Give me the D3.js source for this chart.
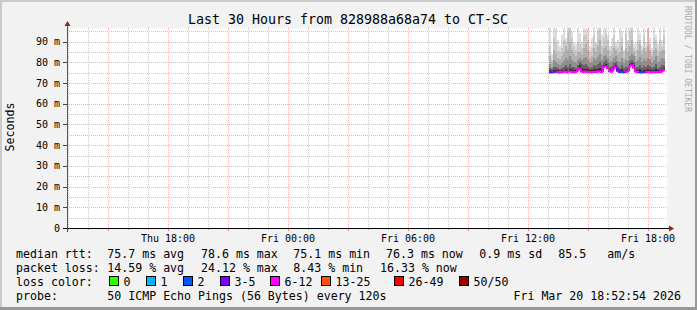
<!DOCTYPE html>
<html><head><meta charset="utf-8">
<script src="https://cdn.jsdelivr.net/npm/d3@7"></script>
<style>
body{margin:0;background:#f2f2f2}
svg{display:block}
text{font-family:"DejaVu Sans Mono",monospace;fill:#000}
</style>
</head><body>
<svg id="c" width="697" height="310"></svg>
<script>
// ---------- data ----------
const titleText = "Last 30 Hours from 828988a68a74 to CT-SC";
const yLabel = "Seconds";
const watermark = "RRDTOOL / TOBI OETIKER";
const rangeStart = new Date(2026, 2, 19, 12, 57);
const rangeEnd = new Date(2026, 2, 20, 18, 57);
const yMaxMs = 96.6;
const dataStart = new Date(2026, 2, 20, 13, 3);
const stepMinutes = 6;

const medianRtt = [75.3,75.2,75.3,75.4,75.3,75.2,75.3,75.4,75.5,75.3,75.6,75.4,75.3,75.3,76.2,77.0,75.6,75.4,75.5,75.3,75.3,75.3,75.4,75.4,75.5,75.6,75.4,
  77.8,78.0,77.2,75.8,75.5,77.0,77.7,76.0,75.4,75.3,75.3,75.4,75.6,78.2,78.6,77.5,75.6,75.4,75.3,75.2,75.3,75.3,75.4,75.3,75.3,75.4,75.3,75.3,75.4,75.5,76.3];
const lossCount = [4,3,2,5,7,8,9,8,10,7,9,8,7,8,6,8,9,7,10,8,7,9,8,7,9,11,8,
  8,9,7,6,7,8,9,5,3,2,4,7,8,9,10,8,7,8,4,2,3,7,9,8,10,8,7,9,8,9,8];
const maxRtt = [99,84,99,97,91,88,93,99,92,99,99,95,90,89,99,94,90,99,96,99,88,92,99,90,99,99,93,
  99,99,93,88,92,99,90,91,99,95,86,99,91,99,99,89,90,99,94,88,99,90,99,92,87,99,93,89,99,91,99];
const p95Rtt = [88,81,92,90,86,85,87,91,90,94,99,92,88,86,90,89,87,93,93,91,85,87,93,89,95,99,88,
  92,94,91,86,88,93,88,87,90,92,85,94,89,95,99,87,86,91,91,86,93,87,96,89,85,92,91,86,91,88,93];
const p90Rtt = [83,79.5,86,84,82,81.5,83,85,88,86,90,86,84,83,85,85,84,87,89,86,82,83,87,85,88,91,84,
  87,88,86,83,84,87,86,84,85,88,82,87,85,88,91,85,83,86,89,84,87,85,88,86,83,86,87,83,85,86,86];
const p80Rtt = [79,78,81,80,79,78.5,79.5,80.5,82,81,83,81,80,79.5,81,82,81,82,82.5,81,79.5,80,82,81,82.5,84,81,
  83,83.5,82,80,80.5,82,83,80.5,80,82,79.5,81,80.5,83,84,83,80,81,82.5,80,81.5,80.5,82,81.5,79.5,81,83,79.5,80.5,82,81.5];
const p70Rtt = [77.5,77,78,77.8,77.2,77,77.5,78,78.5,78,79,78,77.8,77.5,78.5,80,79,78.5,79,78.2,77.5,77.8,78.5,78.3,79,80,78.5,
  80,81,79.5,78,78.2,79.5,80,78.3,77.5,78.5,77.2,78,78,80.5,81,80,78,78,78.8,77.5,78.2,77.8,78.5,78.2,77.3,78,79,77.3,77.8,78.5,78.8];
const p60Rtt = [76.3,76,76.5,76.4,76.1,76,76.2,76.5,76.8,76.5,77,76.6,76.4,76.3,77,78.5,77.5,76.8,77,76.6,76.3,76.4,76.8,76.6,77,77.5,76.8,
  78.8,79.2,78.2,76.8,76.5,78,78.6,77,76.2,76.6,76,76.5,76.6,79.2,79.6,78.5,76.6,76.4,76.6,76,76.4,76.3,76.7,76.5,76.1,76.4,76.8,76.2,76.4,76.8,77.2];

const yMajorTicks = [10,20,30,40,50,60,70,80,90];
const yMinorTicks = [5,15,25,35,45,55,65,75,85,95];
const yTickLabels = ["0","10 m","20 m","30 m","40 m","50 m","60 m","70 m","80 m","90 m"];

const rttRowLabel = "median rtt:";
const rttStats = ["75.7 ms avg","78.6 ms max","75.1 ms min","76.3 ms now","0.9 ms sd","85.5","am/s"];
const lossRowLabel = "packet loss:";
const lossStats = ["14.59 % avg","24.12 % max","8.43 % min","16.33 % now"];
const colorRowLabel = "loss color:";
const lossLabels = ["0","1","2","3-5","6-12","13-25","26-49","50/50"];
const lossColors = ["#26ff00","#00b8ff","#0059ff","#7e00ff","#ff00ff","#ff5500","#ff0000","#a10000"];
const lossUpper = [0,1,2,5,12,25,49,50];
const probeRowLabel = "probe:";
const probeText = "50 ICMP Echo Pings (56 Bytes) every 120s";
const stampText = "Fri Mar 20 18:52:54 2026";

// ---------- layout ----------
const W = 697, H = 310;
const L = 67, R = 667, T = 28, B = 228;
const svg = d3.select("#c");

svg.append("rect").attr("width",W).attr("height",H).attr("fill","#f2f2f2");
svg.append("rect").attr("x",0).attr("y",0).attr("width",W).attr("height",2).attr("fill","#cbcbcb");
svg.append("rect").attr("x",0).attr("y",0).attr("width",2).attr("height",H).attr("fill","#cbcbcb");
svg.append("rect").attr("x",W-2).attr("y",0).attr("width",2).attr("height",H).attr("fill","#999");
svg.append("rect").attr("x",0).attr("y",H-3).attr("width",W).attr("height",3).attr("fill","#999");

svg.append("rect").attr("x",L).attr("y",T).attr("width",R-L).attr("height",B-T).attr("fill","#fff");

const x = d3.scaleTime().domain([rangeStart, rangeEnd]).range([L, R]);
const y = d3.scaleLinear().domain([0, yMaxMs]).range([B, T]);

svg.append("clipPath").attr("id","pc").append("rect").attr("x",L).attr("y",T).attr("width",R-L).attr("height",B-T);
const plot = svg.append("g").attr("clip-path","url(#pc)");

const binT = i => new Date(dataStart.getTime() + i*stepMinutes*60000);
const bx = i => Math.round(x(binT(i)));

// smoke
const bands = [
  {v:maxRtt, c:"#dedede"},
  {v:p95Rtt, c:"#c9c9c9"},
  {v:p90Rtt, c:"#b0b0b0"},
  {v:p80Rtt, c:"#8f8f8f"},
  {v:p70Rtt, c:"#626262"},
  {v:p60Rtt, c:"#303030"}
];
bands.forEach(b => {
  plot.append("g").selectAll("rect").data(b.v).join("rect")
    .attr("x",(d,i)=>bx(i)).attr("width",(d,i)=>bx(i+1)-bx(i))
    .attr("y",d=>y(d)).attr("height",(d,i)=>Math.max(0,y(medianRtt[i])-y(d)))
    .attr("fill",b.c).attr("shape-rendering","crispEdges");
});

// grid (drawn over data like rrdtool)
const grid = svg.append("g").attr("shape-rendering","crispEdges").attr("stroke-width",1).attr("stroke-dasharray","1,1");
const hrs = d3.timeHour.every(1).range(rangeStart, rangeEnd);
const majorHrs = d3.timeHour.every(3).range(rangeStart, rangeEnd);
const isMajor = d => d.getHours() % 3 === 0;
const minC = "rgba(143,143,143,0.5)", majC = "rgba(222,81,81,0.45)";
grid.selectAll(".vmin").data(hrs.filter(d=>!isMajor(d))).join("line")
  .attr("x1",d=>Math.round(x(d))+0.5).attr("x2",d=>Math.round(x(d))+0.5).attr("y1",T).attr("y2",B)
  .attr("stroke",minC);
grid.selectAll(".hmin").data(yMinorTicks).join("line")
  .attr("y1",d=>Math.round(y(d))+0.5).attr("y2",d=>Math.round(y(d))+0.5).attr("x1",L).attr("x2",R)
  .attr("stroke",minC);
grid.selectAll(".vmaj").data(majorHrs).join("line")
  .attr("x1",d=>Math.round(x(d))+0.5).attr("x2",d=>Math.round(x(d))+0.5).attr("y1",T).attr("y2",B)
  .attr("stroke",majC);
grid.selectAll(".hmaj").data(yMajorTicks).join("line")
  .attr("y1",d=>Math.round(y(d))+0.5).attr("y2",d=>Math.round(y(d))+0.5).attr("x1",L).attr("x2",R)
  .attr("stroke",majC);

// median line colored by loss
const lossColor = n => lossColors[lossUpper.findIndex(u => n <= u)];
const med = plot.append("g");
medianRtt.forEach((m,i) => {
  const y0 = i>0 ? y(medianRtt[i-1]) : y(m);
  med.append("path")
    .attr("d",`M${bx(i)},${y0}V${y(m)}H${bx(i+1)}`)
    .attr("fill","none").attr("stroke",lossColor(lossCount[i])).attr("stroke-width",2.2);
});

// axes
const ax = svg.append("g").attr("shape-rendering","crispEdges");
ax.selectAll(".xt").data(hrs).join("line")
  .attr("x1",d=>Math.round(x(d))+0.5).attr("x2",d=>Math.round(x(d))+0.5)
  .attr("y1",B).attr("y2",d=>isMajor(d)?B+3:B+2)
  .attr("stroke",d=>isMajor(d)?"rgba(222,81,81,0.7)":"rgba(143,143,143,0.6)");
ax.selectAll(".yt").data([0].concat(yMajorTicks)).join("line")
  .attr("x1",L-4).attr("x2",L).attr("y1",d=>Math.round(y(d))+0.5).attr("y2",d=>Math.round(y(d))+0.5)
  .attr("stroke","#444");
ax.append("line").attr("x1",L-4).attr("x2",R+4).attr("y1",B+0.5).attr("y2",B+0.5).attr("stroke","#000");
ax.append("line").attr("x1",L+0.5).attr("x2",L+0.5).attr("y1",B+4).attr("y2",T-4).attr("stroke","#555");
svg.append("path").attr("d",`M${R+7},${B+0.5}L${R+2},${B-2.5}L${R+2},${B+3.5}Z`).attr("fill","#9b1c1c");
svg.append("path").attr("d",`M${L+0.5},${T-7}L${L-2.5},${T-2}L${L+3.5},${T-2}Z`).attr("fill","#9b1c1c");

svg.selectAll(".yl").data([0].concat(yMajorTicks)).join("text")
  .attr("x",60).attr("y",d=>y(d)+3.6).attr("text-anchor","end")
  .attr("font-size","10px").text((d,i)=>yTickLabels[i]);
const labelHrs = d3.timeHour.every(6).range(rangeStart, rangeEnd);
const fmt = d3.timeFormat("%a %H:%M");
svg.selectAll(".xl").data(labelHrs).join("text")
  .attr("x",d=>x(d)).attr("y",241.5).attr("text-anchor","middle")
  .attr("font-size","10px").text(d=>fmt(d));

svg.append("text").attr("x",348).attr("y",24).attr("text-anchor","middle")
  .attr("font-size","13.3px").text(titleText);
svg.append("text").attr("transform","translate(14,127) rotate(-90)").attr("text-anchor","middle")
  .attr("font-size","11.6px").text(yLabel);
svg.append("text").attr("transform","translate(685,59) rotate(90)").attr("text-anchor","middle")
  .attr("font-size","8px").style("fill","#aaaaaa").text(watermark);

const lg = svg.append("g").attr("font-size","11.6px").attr("xml:space","preserve");
const r1 = 258.3, r2 = 272.3, r3 = 286.3, r4 = 300.3;
lg.append("text").attr("x",16).attr("y",r1).text(rttRowLabel);
[107.3,201,293.3,386,479.3,558.3,607.3].forEach((px,i)=>lg.append("text").attr("x",px).attr("y",r1).text(rttStats[i]));
lg.append("text").attr("x",16).attr("y",r2).text(lossRowLabel);
[107.3,201,293.3,380].forEach((px,i)=>lg.append("text").attr("x",px).attr("y",r2).text(lossStats[i]));
lg.append("text").attr("x",16).attr("y",r3).text(colorRowLabel);
[108.5,145.5,182.5,219.5,269.5,320.5,393.5,458.5].forEach((px,i)=>{
  lg.append("rect").attr("x",Math.round(px)+0.5).attr("y",276.5).attr("width",9).attr("height",9)
    .attr("fill",lossColors[i]).attr("stroke","#000").attr("stroke-width",1).attr("shape-rendering","crispEdges");
  lg.append("text").attr("x",px+15).attr("y",r3).text(lossLabels[i]);
});
lg.append("text").attr("x",16).attr("y",r4).text(probeRowLabel);
lg.append("text").attr("x",107.3).attr("y",r4).text(probeText);
lg.append("text").attr("x",681).attr("y",r4).attr("text-anchor","end").text(stampText);
</script>
</body></html>
